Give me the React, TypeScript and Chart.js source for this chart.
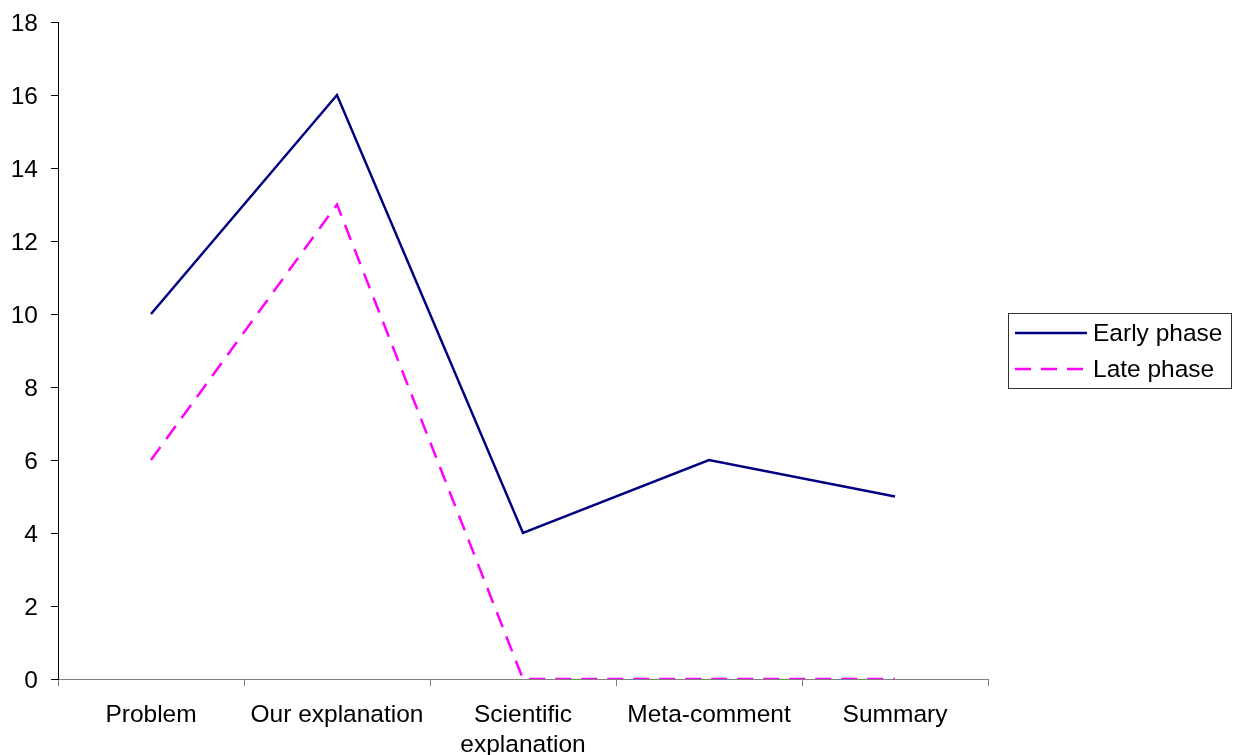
import React, { useEffect, useRef } from "react";
import { Chart, registerables } from "chart.js";

Chart.register(...registerables);

const categories: (string | string[])[] = [
  "Problem",
  "Our explanation",
  ["Scientific", "explanation"],
  "Meta-comment",
  "Summary",
];
const earlyPhase = [10, 16, 4, 6, 5];
const latePhase = [6, 13, 0, 0, 0];
const seriesNames = ["Early phase", "Late phase"];

const FONT = "'Liberation Sans', Arial, sans-serif";
const FONT_SIZE = 24.5;

const boxLegend = {
  id: "boxLegend",
  afterDraw(chart: any) {
    const ctx = chart.ctx;
    const x0 = 1008, y0 = 313, w = 223, h = 75;
    ctx.save();
    ctx.strokeStyle = "#333333";
    ctx.lineWidth = 1;
    ctx.setLineDash([]);
    ctx.strokeRect(x0 + 0.5, y0 + 0.5, w, h);
    const ys = [333, 369];
    chart.data.datasets.forEach((ds: any, i: number) => {
      const y = ys[i];
      ctx.beginPath();
      ctx.strokeStyle = ds.borderColor;
      ctx.lineWidth = 2.5;
      ctx.setLineDash(ds.borderDash || []);
      ctx.moveTo(1015, y);
      ctx.lineTo(1087, y);
      ctx.stroke();
      ctx.setLineDash([]);
      ctx.fillStyle = "#000";
      ctx.font = `${FONT_SIZE}px ${FONT}`;
      ctx.textBaseline = "middle";
      ctx.textAlign = "left";
      ctx.fillText(ds.label, 1093, y + 1);
    });
    ctx.restore();
  },
};

export default function App() {
  const ref = useRef<HTMLCanvasElement | null>(null);
  useEffect(() => {
    if (!ref.current) return;
    const chart = new Chart(ref.current, {
      type: "line",
      data: {
        labels: categories,
        datasets: [
          {
            label: seriesNames[0],
            data: earlyPhase,
            borderColor: "#000080",
            backgroundColor: "#000080",
            borderWidth: 2.5,
            pointRadius: 0,
            tension: 0,
          },
          {
            label: seriesNames[1],
            data: latePhase,
            borderColor: "#FF00FF",
            backgroundColor: "#FF00FF",
            borderWidth: 2.5,
            borderDash: [16, 10],
            pointRadius: 0,
            tension: 0,
          },
        ],
      },
      options: {
        animation: false,
        responsive: true,
        maintainAspectRatio: false,
        layout: { padding: { top: 22, right: 248, left: 0, bottom: 0 } },
        plugins: {
          legend: { display: false },
          tooltip: { enabled: false },
        },
        scales: {
          x: {
            offset: true,
            grid: {
              offset: true,
              drawOnChartArea: false,
              drawTicks: true,
              tickLength: 7,
              color: "#808080",
            },
            border: { display: true, color: "#808080", width: 1 },
            ticks: {
              color: "#000",
              font: { family: FONT, size: FONT_SIZE },
              padding: 15,
              maxRotation: 0,
              autoSkip: false,
            },
            afterFit: (s: any) => {
              s.height = 76;
              s.paddingLeft = 0;
              s.paddingRight = 0;
            },
          },
          y: {
            min: 0,
            max: 18,
            grid: {
              drawOnChartArea: false,
              drawTicks: true,
              tickLength: 7,
              color: "#000",
            },
            border: { display: true, color: "#000", width: 1 },
            ticks: {
              stepSize: 2,
              color: "#000",
              font: { family: FONT, size: FONT_SIZE },
              padding: 13,
              labelOffset: 2,
            },
            afterFit: (s: any) => {
              s.width = 58;
              s.paddingTop = 0;
              s.paddingBottom = 0;
            },
          },
        },
      },
      plugins: [boxLegend],
    });
    return () => chart.destroy();
  }, []);
  return (
    <div
      style={{
        position: "fixed",
        left: 0,
        top: 0,
        width: 1236,
        height: 755,
        background: "#fff",
      }}
    >
      <canvas ref={ref} />
    </div>
  );
}
